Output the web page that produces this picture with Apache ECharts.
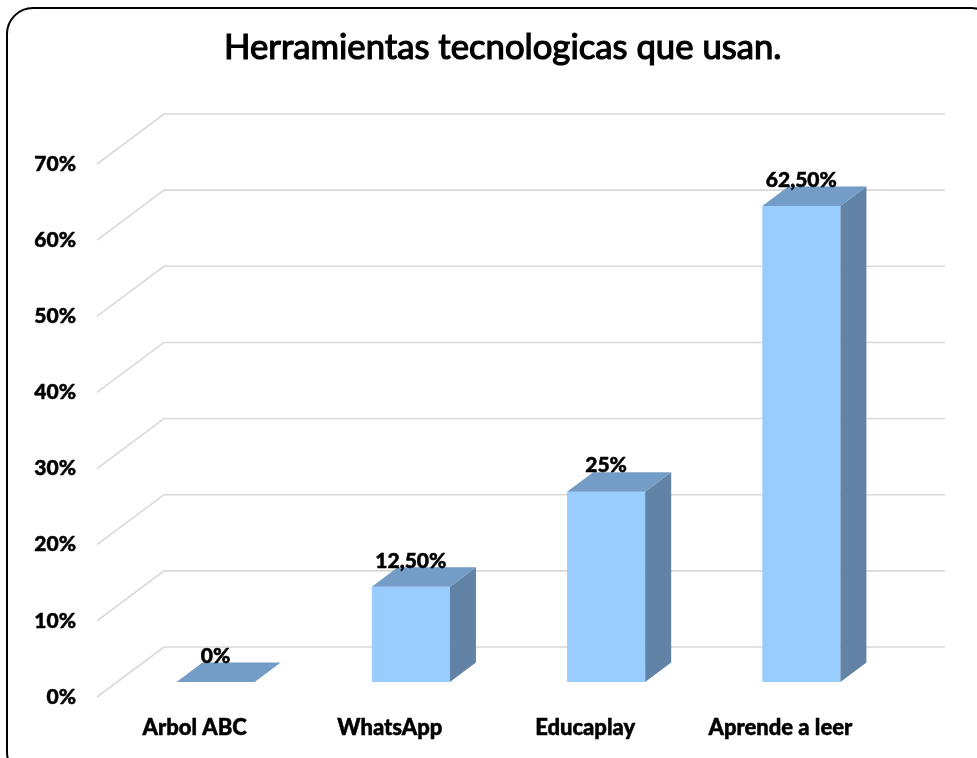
<!DOCTYPE html>
<html>
<head>
<meta charset="utf-8">
<script src="https://cdn.jsdelivr.net/npm/echarts@6/dist/echarts.min.js"></script>
<style>
  html, body { margin: 0; padding: 0; background: #fff; }
  #chart { width: 977px; height: 758px; }
</style>
</head>
<body>
<div id="chart"></div>
<script>
// datos
const categories = ["Arbol ABC", "WhatsApp", "Educaplay", "Aprende a leer"];
const values = [0, 0.125, 0.25, 0.625];
const yTicks = [0, 0.1, 0.2, 0.3, 0.4, 0.5, 0.6, 0.7];

// profundidad 3D en pixeles
const wallDepth = [67, -50];   // del plano frontal a la pared del fondo
const barShift = [21, -15];    // cara frontal de la barra
const barDepth = [26, -19.5];  // grosor de la barra

const myChart = echarts.init(document.getElementById("chart"), null, { renderer: "canvas" });

const labelFont = {
  fontFamily: "Lato",
  fontWeight: 900,
  color: "#000",
  textBorderColor: "#000",
  textBorderWidth: 0.5,
};

function pctLabel(v) {
  const p = v * 100;
  if (Number.isInteger(p)) return p + "%";
  return p.toFixed(2).replace(".", ",") + "%";
}

// lineas de division en la pared del fondo + diagonales del lado izquierdo
function renderGrid(params, api) {
  const v = api.value(1);
  const band = api.size([1, 0])[0];
  const first = api.coord([0, v]);
  const last = api.coord([categories.length - 1, v]);
  const xl = first[0] - band / 2;
  const xr = last[0] + band / 2;
  const y = first[1];
  return {
    type: "polyline",
    shape: {
      points: [
        [xl, y],
        [xl + wallDepth[0], y + wallDepth[1]],
        [xr + wallDepth[0], y + wallDepth[1]],
      ],
    },
    style: { stroke: "#d9d9d9", lineWidth: 1.6, fill: null },
    silent: true,
  };
}

function renderBar(params, api) {
  const idx = api.value(0);
  const val = api.value(1);
  const base = api.coord([idx, 0]);
  const top = api.coord([idx, val]);
  const w = api.size([1, 0])[0] * 0.4;
  const x0 = base[0] - w / 2 + barShift[0];
  const yb = base[1] + barShift[1];
  const yt = top[1] + barShift[1];
  const dx = barDepth[0], dy = barDepth[1];
  const children = [];
  if (yb - yt > 0.5) {
    children.push({
      type: "rect",
      shape: { x: x0, y: yt, width: w, height: yb - yt },
      style: { fill: "#99ccff" },
    });
    children.push({
      type: "polygon",
      shape: { points: [[x0 + w, yt], [x0 + w + dx, yt + dy], [x0 + w + dx, yb + dy], [x0 + w, yb]] },
      style: { fill: "#6282a6" },
    });
  }
  children.push({
    type: "polygon",
    shape: { points: [[x0, yt], [x0 + w, yt], [x0 + w + dx, yt + dy], [x0 + dx, yt + dy]] },
    style: { fill: "#739cc6" },
  });
  children.push({
    type: "text",
    style: {
      x: x0 + w / 2,
      y: yt + dy + 4,
      text: pctLabel(val),
      align: "center",
      verticalAlign: "bottom",
      fontFamily: labelFont.fontFamily,
      fontWeight: labelFont.fontWeight,
      fontSize: 21,
      fill: "#000",
      stroke: "#000",
      lineWidth: 0.5,
    },
  });
  return { type: "group", children: children };
}

const option = {
  animation: false,
  backgroundColor: "#fff",
  title: {
    text: "Herramientas tecnologicas que usan.",
    left: 219,
    top: 25,
    textStyle: {
      fontFamily: "Lato",
      fontSize: 34.7,
      fontWeight: "normal",
      color: "#000",
      textBorderColor: "#000",
      textBorderWidth: 1.2,
    },
  },
  graphic: [
    {
      type: "rect",
      shape: { x: 7, y: 8, width: 990, height: 770, r: 26 },
      style: { fill: null, stroke: "#000", lineWidth: 2 },
      silent: true,
      z: 100,
    },
  ],
  grid: { left: 97, right: 99, top: 164, bottom: 61, containLabel: false },
  xAxis: {
    type: "category",
    data: categories,
    axisLine: { show: false },
    axisTick: { show: false },
    axisLabel: {
      margin: 20,
      fontSize: 22,
      fontFamily: labelFont.fontFamily,
      fontWeight: labelFont.fontWeight,
      color: labelFont.color,
      textBorderColor: labelFont.textBorderColor,
      textBorderWidth: labelFont.textBorderWidth,
    },
  },
  yAxis: {
    type: "value",
    min: 0,
    max: 0.7,
    interval: 0.1,
    axisLine: { show: false },
    axisTick: { show: false },
    splitLine: { show: false },
    axisLabel: {
      margin: 21,
      fontSize: 21,
      fontFamily: labelFont.fontFamily,
      fontWeight: labelFont.fontWeight,
      color: labelFont.color,
      textBorderColor: labelFont.textBorderColor,
      textBorderWidth: labelFont.textBorderWidth,
      formatter: (v) => Math.round(v * 100) + "%",
    },
  },
  series: [
    {
      type: "custom",
      name: "grid3d",
      renderItem: renderGrid,
      data: yTicks.map((t) => [0, t]),
      z: 1,
      silent: true,
    },
    {
      type: "custom",
      name: "barras",
      renderItem: renderBar,
      data: values.map((v, i) => [i, v]),
      z: 2,
    },
  ],
};

myChart.setOption(option);
</script>
</body>
</html>
